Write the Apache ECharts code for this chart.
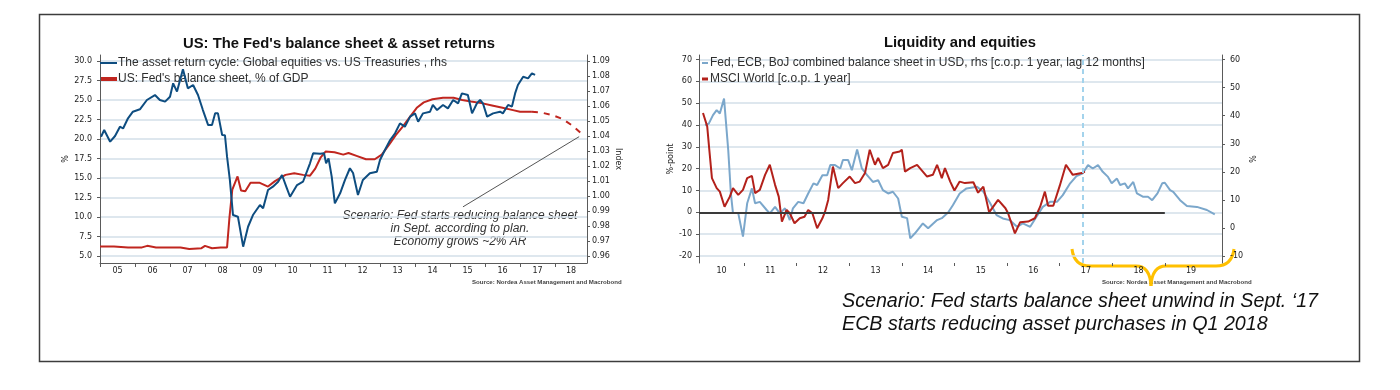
<!DOCTYPE html>
<html><head><meta charset="utf-8">
<script src="https://cdn.jsdelivr.net/npm/echarts@6/dist/echarts.min.js"></script>
<style>html,body{margin:0;padding:0;background:#fff;}#c{width:1400px;height:390px;}</style>
</head><body><div id="c"></div><script>
// ---------- Left chart data ----------
const assetCycleX = [2005.03,2005.12,2005.29,2005.43,2005.57,2005.66,2005.8,2005.94,2006.14,2006.34,2006.57,2006.71,2006.86,2007.0,2007.09,2007.2,2007.37,2007.51,2007.66,2007.8,2007.94,2008.09,2008.2,2008.29,2008.37,2008.49,2008.57,2008.63,2008.71,2008.8,2008.94,2009.09,2009.23,2009.37,2009.57,2009.66,2009.8,2009.94,2010.09,2010.2,2010.34,2010.43,2010.63,2010.8,2011.0,2011.09,2011.29,2011.4,2011.46,2011.53,2011.62,2011.71,2011.86,2012.0,2012.14,2012.23,2012.37,2012.51,2012.71,2012.91,2013.0,2013.14,2013.29,2013.43,2013.57,2013.71,2013.86,2014.0,2014.09,2014.23,2014.43,2014.51,2014.63,2014.8,2014.94,2015.09,2015.23,2015.34,2015.51,2015.63,2015.77,2015.86,2015.94,2016.06,2016.23,2016.43,2016.51,2016.66,2016.77,2016.86,2016.94,2017.09,2017.23,2017.34,2017.43];
const assetCycleY = [1.0395,1.044,1.0362,1.040,1.0462,1.045,1.0518,1.0562,1.0578,1.064,1.0673,1.064,1.0629,1.0662,1.0751,1.0696,1.0845,1.0718,1.074,1.0673,1.0573,1.0473,1.0473,1.0551,1.0551,1.0407,1.0405,1.0262,1.0107,0.9873,0.9862,0.9662,0.9795,0.9873,0.994,0.9918,1.004,1.0062,1.0095,1.014,1.0051,0.9995,1.0073,1.0095,1.0218,1.0285,1.0282,1.0285,1.0218,1.0251,1.0129,0.9951,1.0018,1.0107,1.0185,1.0153,1.0007,1.0107,1.0151,1.0162,1.024,1.0307,1.0373,1.0418,1.0484,1.0462,1.0529,1.0551,1.0495,1.0551,1.0562,1.0607,1.0573,1.0607,1.0584,1.064,1.0618,1.0684,1.0673,1.0551,1.0618,1.064,1.0618,1.0529,1.0551,1.0562,1.0551,1.0607,1.0596,1.0684,1.074,1.0795,1.0784,1.0818,1.0807];
const fedBsX = [2005.0,2005.4,2005.8,2006.2,2006.35,2006.6,2007.0,2007.3,2007.55,2007.9,2008.0,2008.2,2008.45,2008.63,2008.7,2008.78,2008.93,2009.03,2009.15,2009.3,2009.55,2009.8,2010.0,2010.3,2010.55,2010.8,2011.0,2011.15,2011.3,2011.45,2011.7,2011.95,2012.1,2012.35,2012.6,2012.85,2013.05,2013.25,2013.45,2013.65,2013.85,2014.05,2014.25,2014.5,2014.8,2015.1,2015.35,2015.6,2015.9,2016.2,2016.5,2016.8,2017.0,2017.34];
const fedBsY = [6.2,6.2,6.1,6.1,6.3,6.1,6.1,6.1,5.9,6.0,6.3,6.0,6.1,6.1,10.0,13.5,15.2,13.4,13.3,14.4,14.4,13.9,14.6,15.4,15.6,15.4,15.3,16.2,17.6,18.4,18.3,18.0,18.2,17.8,17.4,17.4,18.0,19.2,20.5,21.6,22.8,24.0,24.7,25.1,25.3,25.3,25.0,24.8,24.6,24.3,24.0,23.7,23.5,23.5];
const fedScenarioX = [2017.34,2017.6,2017.9,2018.2,2018.5,2018.83];
const fedScenarioY = [23.5,23.4,23.1,22.6,21.7,20.4];
const pointerFrom = [2015.37, 11.3];
const pointerTo = [2018.69, 20.3];

// ---------- Right chart data ----------
const cbBsX = [2010.26,2010.33,2010.41,2010.48,2010.54,2010.62,2010.7,2010.75,2010.79,2010.89,2010.98,2011.06,2011.15,2011.21,2011.3,2011.43,2011.49,2011.59,2011.68,2011.78,2011.87,2011.93,2012.03,2012.13,2012.22,2012.32,2012.39,2012.49,2012.58,2012.64,2012.73,2012.83,2012.88,2012.98,2013.05,2013.15,2013.24,2013.34,2013.45,2013.55,2013.64,2013.74,2013.83,2013.93,2014.0,2014.1,2014.16,2014.25,2014.4,2014.5,2014.67,2014.76,2014.88,2014.97,2015.1,2015.23,2015.43,2015.55,2015.68,2015.8,2015.92,2016.05,2016.19,2016.3,2016.44,2016.56,2016.68,2016.82,2016.95,2017.06,2017.2,2017.32,2017.44,2017.54,2017.63,2017.73,2017.82,2017.92,2017.99,2018.09,2018.15,2018.24,2018.3,2018.4,2018.47,2018.59,2018.68,2018.76,2018.86,2018.95,2019.0,2019.1,2019.16,2019.29,2019.42,2019.61,2019.8,2019.95];
const cbBsY = [36.6,37.2,40.2,42.0,40.8,46.1,27.7,12.3,5.3,5.3,-3.1,8.8,14.1,8.8,9.3,6.4,5.2,7.5,5.2,7.0,2.8,7.0,9.3,8.8,12.3,15.9,15.3,18.8,18.8,22.4,22.4,21.2,24.2,24.2,20.6,28.0,21.2,18.8,16.4,17.0,13.5,12.3,12.9,10.5,4.0,3.5,-3.7,-1.9,1.6,-0.1,2.8,3.5,5.5,8.1,12.3,14.1,14.7,12.9,8.8,4.6,3.4,2.8,0.4,1.6,0.4,4.0,7.5,9.3,9.3,11.7,15.9,18.5,19.5,22.4,21.2,22.4,20.0,18.2,15.9,17.6,15.3,15.9,14.1,16.4,12.3,11.1,11.1,9.9,12.3,15.9,16.1,13.5,12.9,9.9,7.8,7.5,6.4,4.8];
const msciX = [2010.22,2010.3,2010.34,2010.39,2010.48,2010.54,2010.63,2010.73,2010.79,2010.89,2010.98,2011.06,2011.15,2011.21,2011.3,2011.4,2011.49,2011.59,2011.66,2011.72,2011.81,2011.87,2011.96,2012.06,2012.15,2012.22,2012.3,2012.39,2012.49,2012.54,2012.6,2012.69,2012.79,2012.88,2013.01,2013.11,2013.2,2013.3,2013.39,2013.49,2013.55,2013.64,2013.74,2013.83,2013.96,2014.0,2014.06,2014.16,2014.29,2014.48,2014.59,2014.67,2014.76,2014.82,2014.92,2015.0,2015.1,2015.2,2015.36,2015.45,2015.55,2015.66,2015.83,2015.97,2016.02,2016.15,2016.25,2016.4,2016.53,2016.63,2016.72,2016.78,2016.88,2017.0,2017.12,2017.25,2017.42,2017.48];
const msciY = [45.5,39.4,28.7,15.7,11.1,9.5,2.6,7.2,11.1,8.0,10.3,15.7,16.7,8.8,10.3,17.2,21.8,12.6,7.2,-4.2,1.1,-0.4,-5.0,-2.7,-2.0,1.1,-0.4,-7.3,-2.7,0.3,5.7,21.0,11.1,13.4,16.4,13.4,14.1,18.0,28.7,21.8,24.9,20.3,21.8,27.2,27.9,28.7,18.7,20.3,21.8,16.4,17.2,21.8,15.7,20.3,14.1,10.0,14.1,13.4,13.8,9.0,11.8,0.0,5.7,1.9,-0.4,-9.6,-4.5,-4.2,-2.7,2.6,9.5,3.0,3.0,12.0,21.8,17.2,18.0,18.7];
const zeroLineFrom = [2010.144, 0];
const zeroLineTo = [2019.0, 0];
const scenarioStart = 2017.44;

// ---------- Tick labels ----------
const leftYearLabels = ['05','06','07','08','09','10','11','12','13','14','15','16','17','18'];
const rightYearLabels = ['10','11','12','13','14','15','16','17','18','19'];
const leftPctTicks = [5,7.5,10,12.5,15,17.5,20,22.5,25,27.5,30];
const leftIndexTicks = [0.96,0.97,0.98,0.99,1.00,1.01,1.02,1.03,1.04,1.05,1.06,1.07,1.08,1.09];
const rightPointTicks = [-20,-10,0,10,20,30,40,50,60,70];
const rightPctTicks = [-10,0,10,20,30,40,50,60];

const names = {
  asset: 'The asset return cycle: Global equities vs. US Treasuries , rhs',
  fed: "US: Fed's balance sheet, % of GDP",
  cb: 'Fed, ECB, BoJ combined balance sheet in USD, rhs [c.o.p. 1 year, lag 12 months]',
  msci: 'MSCI World [c.o.p. 1 year]'
};

const zip = (xs, ys) => xs.map((x, i) => [x, ys[i]]);
const L = {min: 2005, max: 2018.914};
const R = {min: 2010.144, max: 2020.087};
function yearTicks(labels, ext) {
  return labels.map(l => 2000 + parseInt(l, 10)).filter(y => y >= ext.min - 1e-9 && y <= ext.max);
}
function yearLabelPos(labels, ext) {
  return labels.map(l => { const y = 2000 + parseInt(l, 10); return (Math.max(y, ext.min) + Math.min(y + 1, ext.max)) / 2; });
}
const yearFmt = v => String(Math.floor(v + 1e-6)).slice(2);

const TICKFONT = {fontFamily: 'DejaVu Sans', fontSize: 8, color: '#222'};
const AXC = '#5a5a5a';
const GRIDC = '#d3dfe9';
const BRACE = {fill: 'none', stroke: '#FFC000', lineWidth: 3};
const LEGTEXT = {fontFamily: 'Liberation Sans', fontSize: 12, color: '#2e2e2e'};
function legendItem(name, left, top, w, h, pad) {
  return {
    data: [name], icon: 'rect', left: left, top: top, itemWidth: w, itemHeight: h,
    orient: 'vertical', padding: 0,
    textStyle: Object.assign({padding: [0, 0, 0, pad]}, LEGTEXT)
  };
}

const chart = echarts.init(document.getElementById('c'), null, {renderer: 'canvas'});
chart.setOption({
  animation: false,
  backgroundColor: '#ffffff',
  grid: [
    {left: 100, top: 55, width: 487, height: 208, containLabel: false},
    {left: 699, top: 55, width: 523, height: 208, containLabel: false}
  ],
  legend: [
    legendItem(names.asset, 100, 57, 17, 2, -4),
    legendItem(names.fed, 101, 73, 16, 4, -4),
    legendItem(names.cb, 702, 57, 6, 2, -3),
    legendItem(names.msci, 702, 73, 6, 3, -3)
  ],
  xAxis: [
    {
      gridIndex: 0, type: 'value', min: L.min, max: L.max,
      axisLine: {show: true, onZero: false, lineStyle: {color: AXC, width: 1}},
      axisTick: {show: true, length: 4, customValues: yearTicks(leftYearLabels, L), lineStyle: {color: AXC}},
      axisLabel: Object.assign({customValues: yearLabelPos(leftYearLabels, L), formatter: yearFmt, margin: 4, showMinLabel: true, showMaxLabel: true}, TICKFONT),
      splitLine: {show: false}
    },
    {
      gridIndex: 1, type: 'value', min: R.min, max: R.max,
      axisLine: {show: false, onZero: false},
      axisTick: {show: true, length: 3, customValues: yearTicks(rightYearLabels, R), lineStyle: {color: AXC}},
      axisLabel: Object.assign({customValues: yearLabelPos(rightYearLabels, R), formatter: yearFmt, margin: 4, showMinLabel: true, showMaxLabel: true}, TICKFONT),
      splitLine: {show: false}
    }
  ],
  yAxis: [
    {
      gridIndex: 0, type: 'value', position: 'left', min: 4.10, max: 30.77,
      axisLine: {show: true, lineStyle: {color: AXC}},
      axisTick: {show: true, length: 3, customValues: leftPctTicks, lineStyle: {color: AXC}},
      axisLabel: Object.assign({customValues: leftPctTicks, formatter: v => v.toFixed(1), margin: 8}, TICKFONT),
      splitLine: {show: true, lineStyle: {color: GRIDC, width: 1.5}},
      name: '%', nameLocation: 'middle', nameGap: 30, nameRotate: 90,
      nameTextStyle: {fontFamily: 'DejaVu Sans', fontSize: 8, color: '#222'}
    },
    {
      gridIndex: 0, type: 'value', position: 'right', min: 0.95533, max: 1.094,
      axisLine: {show: true, lineStyle: {color: AXC}},
      axisTick: {show: true, length: 3, customValues: leftIndexTicks, lineStyle: {color: AXC}},
      axisLabel: Object.assign({customValues: leftIndexTicks, formatter: v => v.toFixed(2), margin: 5}, TICKFONT),
      splitLine: {show: false},
      name: 'Index', nameLocation: 'middle', nameGap: 23, nameRotate: -90,
      nameTextStyle: {fontFamily: 'DejaVu Sans', fontSize: 8, color: '#222'}
    },
    {
      gridIndex: 1, type: 'value', position: 'left', min: -23.2, max: 72.1,
      axisLine: {show: true, lineStyle: {color: AXC}},
      axisTick: {show: true, length: 3, customValues: rightPointTicks, lineStyle: {color: AXC}},
      axisLabel: Object.assign({customValues: rightPointTicks, formatter: v => String(Math.round(v)), margin: 7}, TICKFONT),
      splitLine: {show: true, lineStyle: {color: GRIDC, width: 1.5}},
      name: '%-point', nameLocation: 'middle', nameGap: 22, nameRotate: 90,
      nameTextStyle: {fontFamily: 'DejaVu Sans', fontSize: 8, color: '#222'}
    },
    {
      gridIndex: 1, type: 'value', position: 'right', min: -12.49, max: 61.64,
      axisLine: {show: true, lineStyle: {color: AXC}},
      axisTick: {show: true, length: 3, customValues: rightPctTicks, lineStyle: {color: AXC}},
      axisLabel: Object.assign({customValues: rightPctTicks, formatter: v => String(Math.round(v)), margin: 8}, TICKFONT),
      splitLine: {show: false},
      name: '%', nameLocation: 'middle', nameGap: 18, nameRotate: -90,
      nameTextStyle: {fontFamily: 'DejaVu Sans', fontSize: 8, color: '#222'}
    }
  ],
  series: [
    {
      name: names.fed, type: 'line', xAxisIndex: 0, yAxisIndex: 0,
      data: zip(fedBsX, fedBsY), symbol: 'none', color: '#c0261f',
      lineStyle: {width: 2, color: '#c0261f'}, z: 3
    },
    {
      name: 'Fed scenario', type: 'line', xAxisIndex: 0, yAxisIndex: 0,
      data: zip(fedScenarioX, fedScenarioY), symbol: 'none', color: '#c0261f',
      lineStyle: {width: 2, color: '#c0261f', type: [6, 6]}, z: 3,
      markLine: {
        silent: true, symbol: ['none', 'none'], label: {show: false},
        lineStyle: {color: '#555', width: 1, type: 'solid'},
        data: [[{coord: pointerFrom}, {coord: pointerTo}]]
      }
    },
    {
      name: names.asset, type: 'line', xAxisIndex: 0, yAxisIndex: 1,
      data: zip(assetCycleX, assetCycleY), symbol: 'none', color: '#0e4d80',
      lineStyle: {width: 2, color: '#0e4d80'}, z: 4
    },
    {
      name: names.cb, type: 'line', xAxisIndex: 1, yAxisIndex: 3,
      data: zip(cbBsX, cbBsY), symbol: 'none', color: '#7ba7cb',
      lineStyle: {width: 2, color: '#7ba7cb'}, z: 3,
      markLine: {
        silent: true, symbol: ['none', 'none'], label: {show: false},
        lineStyle: {color: '#a3d3ec', width: 2, type: [5, 4]},
        data: [{xAxis: scenarioStart}]
      }
    },
    {
      name: names.msci, type: 'line', xAxisIndex: 1, yAxisIndex: 2,
      data: zip(msciX, msciY), symbol: 'none', color: '#b3211b',
      lineStyle: {width: 2, color: '#b3211b'}, z: 4,
      markLine: {
        silent: true, symbol: ['none', 'none'], label: {show: false},
        lineStyle: {color: '#3a3a3a', width: 2, type: 'solid'},
        data: [[{coord: zeroLineFrom}, {coord: zeroLineTo}]]
      }
    }
  ],
  graphic: [
    {type: 'rect', silent: true, shape: {x: 39.5, y: 14.5, width: 1320, height: 347}, style: {fill: 'none', stroke: '#3c3c3c', lineWidth: 1.5}},
    {type: 'text', silent: true, x: 339, y: 44, style: {text: "US: The Fed's balance sheet & asset returns", font: 'bold 14.8px "Liberation Sans"', fill: '#111', textAlign: 'center', textVerticalAlign: 'middle'}},
    {type: 'text', silent: true, x: 960, y: 43, style: {text: 'Liquidity and equities', font: 'bold 14.8px "Liberation Sans"', fill: '#111', textAlign: 'center', textVerticalAlign: 'middle'}},
    {type: 'text', silent: true, x: 460, y: 229, style: {text: 'Scenario: Fed starts reducing balance sheet\nin Sept. according to plan.\nEconomy grows ~2% AR', font: 'italic 12px "Liberation Sans"', lineHeight: 13, fill: '#333', textAlign: 'center', textVerticalAlign: 'middle'}},
    {type: 'text', silent: true, x: 472, y: 282, style: {text: 'Source: Nordea Asset Management and Macrobond', font: 'bold 6.1px "Liberation Sans"', fill: '#444', textAlign: 'left', textVerticalAlign: 'middle'}},
    {type: 'text', silent: true, x: 1102, y: 282, style: {text: 'Source: Nordea Asset Management and Macrobond', font: 'bold 6.1px "Liberation Sans"', fill: '#444', textAlign: 'left', textVerticalAlign: 'middle'}},
    {type: 'bezierCurve', silent: true, shape: {x1: 1072, y1: 249, cpx1: 1074, cpy1: 266, x2: 1090, y2: 266}, style: BRACE},
    {type: 'line', silent: true, shape: {x1: 1090, y1: 266, x2: 1136, y2: 266}, style: BRACE},
    {type: 'bezierCurve', silent: true, shape: {x1: 1136, y1: 266, cpx1: 1150, cpy1: 266, x2: 1151, y2: 286}, style: BRACE},
    {type: 'bezierCurve', silent: true, shape: {x1: 1151, y1: 286, cpx1: 1152, cpy1: 266, x2: 1166, y2: 266}, style: BRACE},
    {type: 'line', silent: true, shape: {x1: 1166, y1: 266, x2: 1216, y2: 266}, style: BRACE},
    {type: 'bezierCurve', silent: true, shape: {x1: 1216, y1: 266, cpx1: 1232, cpy1: 266, x2: 1234, y2: 249}, style: BRACE},
    {type: 'text', silent: true, x: 842, y: 302, style: {text: 'Scenario: Fed starts balance sheet unwind in Sept. \u201817', font: 'italic 19.7px "Liberation Sans"', fill: '#111', textAlign: 'left', textVerticalAlign: 'middle'}},
    {type: 'text', silent: true, x: 842, y: 325, style: {text: 'ECB starts reducing asset purchases in Q1 2018', font: 'italic 19.7px "Liberation Sans"', fill: '#111', textAlign: 'left', textVerticalAlign: 'middle'}}
  ]
});
</script></body></html>
